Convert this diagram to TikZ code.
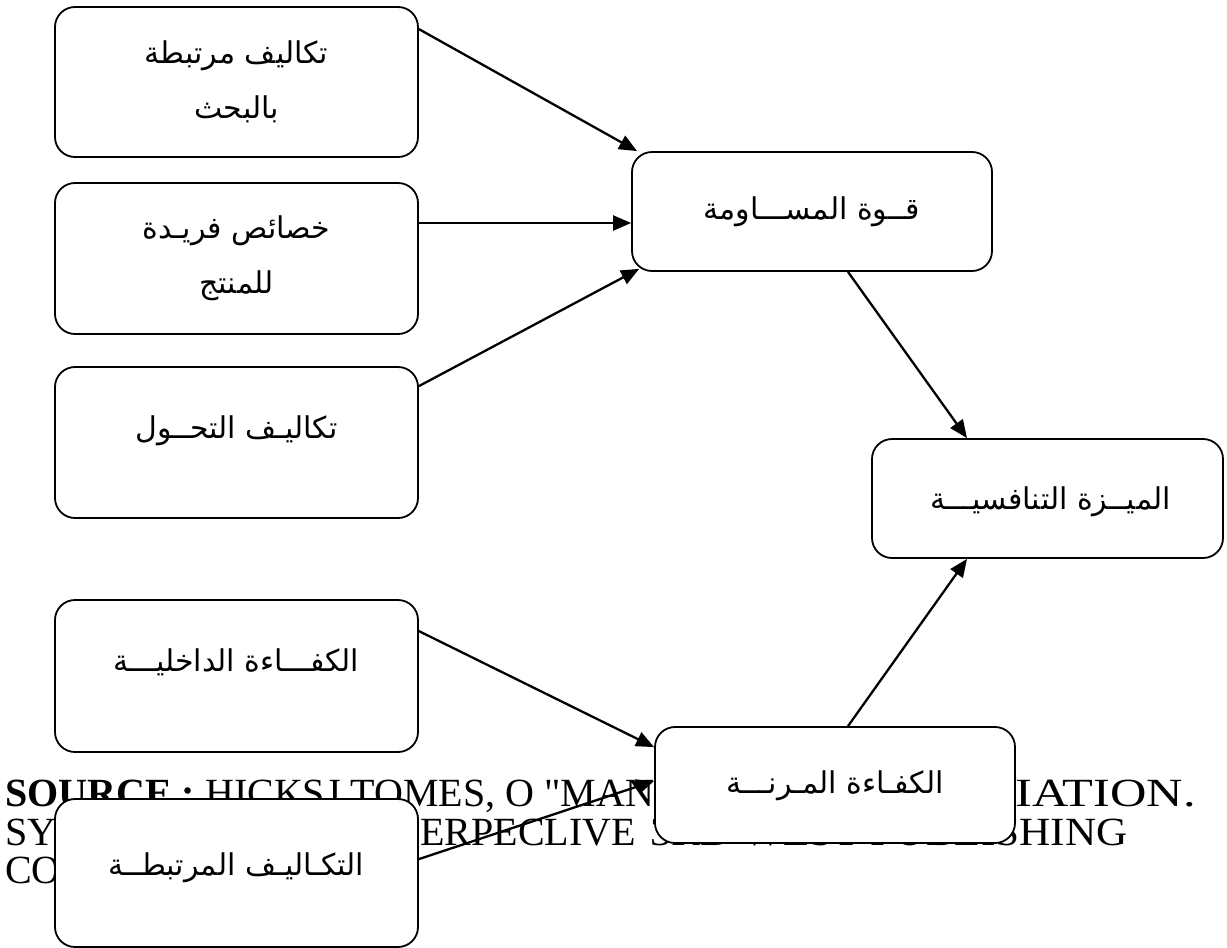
\documentclass[tikz,border=0pt]{standalone}
\usepackage{fontspec}
\setmainfont{Liberation Serif}
\newfontfamily\srcwideA[FakeStretch=1.26]{Liberation Serif}
\newfontfamily\srcwideB[FakeStretch=1.08]{Liberation Serif}
\newfontfamily\arabicfont[Script=Arabic]{DejaVu Sans}
\TeXXeTstate=1
\usetikzlibrary{arrows.meta,calc}
\begin{document}
\begin{tikzpicture}[x=1pt,y=-1pt,
  box/.style={draw, line width=1.8pt, rounded corners=20pt, fill=white, inner sep=0pt},
  lbl/.style={font=\arabicfont\fontsize{30}{55}\selectfont, align=center, inner sep=0pt},
  src/.style={font=\fontsize{40}{40}\selectfont, inner sep=0pt, anchor=base west},
  conn/.style={line width=2.3pt, -{Triangle[length=18pt,width=15pt]}}
]
\useasboundingbox (0,0) rectangle (1227,948);

% reference line underneath the boxes
\node[src] (s1a) at (5,806) {\textbf{SOURCE :} HICKSJ TOMES, O \textquotedbl MANAGING};
\node[src, anchor=base east] (s1b) at (1196,806) {\srcwideA DIFFERENTIATION.};
\node[src] (s2a) at (5,845) {SYSTEMS};
\node[src] (s2b) at (398,845) {PERPECLIVE};
\node[src, anchor=base east] (s2c) at (1128,845) {\srcwideB 3RD WEST PUBLISHING};
\node[src] (s3) at (5,883) {COMPANY};

% boxes
\node[box, minimum width=363pt, minimum height=150pt] (A) at (236.5,82) {};
\node[box, minimum width=363pt, minimum height=151pt] (B) at (236.5,258.5) {};
\node[box, minimum width=363pt, minimum height=151pt] (C) at (236.5,442.5) {};
\node[box, minimum width=363pt, minimum height=152pt] (D) at (236.5,676) {};
\node[box, minimum width=363pt, minimum height=148pt] (E) at (236.5,873) {};
\node[box, minimum width=360pt, minimum height=119pt] (F) at (812,211.5) {};
\node[box, minimum width=351pt, minimum height=119pt] (G) at (1047.5,498.5) {};
\node[box, minimum width=360pt, minimum height=116pt] (H) at (835,785) {};

% labels
\node[lbl] (At) at (A.center) {\beginR تكاليف مرتبطة\endR\\\beginR بالبحث\endR};
\node[lbl] (Bt) at (B.center) {\beginR خصائص فريـدة\endR\\\beginR للمنتج\endR};
\node[lbl] (Ct) at ([yshift=12pt]C.center) {\beginR تكاليـف التحــول\endR};
\node[lbl] (Dt) at ([yshift=14pt]D.center) {\beginR الكفـــاءة الداخليـــة\endR};
\node[lbl] (Et) at ([yshift=5pt]E.center) {\beginR التكـاليـف المرتبطــة\endR};
\node[lbl] (Ft) at (F.center) {\beginR قــوة المســـاومة\endR};
\node[lbl] (Gt) at ([xshift=3pt,yshift=-3pt]G.center) {\beginR الميــزة التنافسيـــة\endR};
\node[lbl] (Ht) at ([yshift=-1pt]H.center) {\beginR الكفـاءة المـرنـــة\endR};

% connectors
\draw[conn] ([yshift=-23pt]A.north east) -- ([xshift=6pt]F.north west);
\draw[conn] ([yshift=35.5pt]B.east) -- ([yshift=-11.5pt]F.west);
\draw[conn] ([yshift=-20pt]C.north east) -- ([xshift=8pt,yshift=3pt]F.south west);
\draw[conn] ([xshift=36pt]F.south) -- ([xshift=-80.5pt]G.north);
\draw[conn] ([xshift=13pt]H.north) -- ([xshift=-80.5pt]G.south);
\draw[conn] ([yshift=-32pt]D.north east) -- ([yshift=-21pt]H.north west);
\draw[conn] ([yshift=-61pt]E.north east) -- ([yshift=4pt]H.west);
\end{tikzpicture}
\end{document}
